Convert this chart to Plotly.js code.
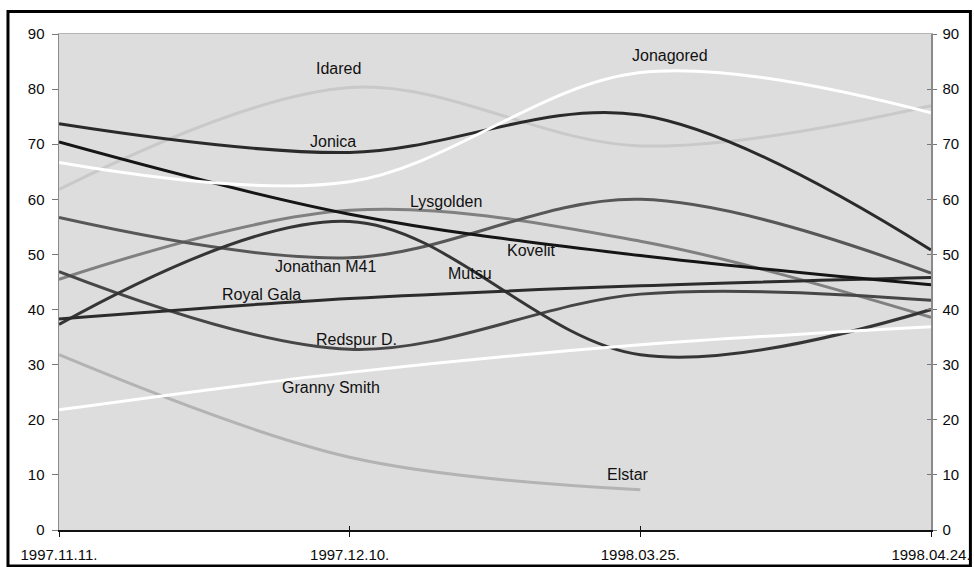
<!DOCTYPE html>
<html>
<head>
<meta charset="utf-8">
<script src="https://cdn.plot.ly/plotly-3.0.1.min.js"></script>
<style>
  html, body { margin: 0; padding: 0; background: #ffffff; }
  #chart { width: 974px; height: 567px; }
</style>
</head>
<body>
<div id="chart"></div>
<script>
// ---- data ----
var dates = ["1997.11.11.", "1997.12.10.", "1998.03.25.", "1998.04.24."];

var idared      = [61.8, 80.3, 69.7, 77.0];
var jonagored   = [66.7, 63.2, 83.0, 75.7];
var jonica      = [73.7, 68.5, 75.3, 50.8];
var kovelit     = [70.4, 57.3, 49.8, 44.5];
var lysgolden   = [45.5, 58.0, 52.4, 38.6];
var jonathanM41 = [56.7, 49.4, 60.0, 46.6];
var mutsu       = [37.3, 56.0, 31.8, 40.0];
var royalGala   = [38.3, 42.0, 44.3, 45.8];
var redspurD    = [46.9, 32.8, 42.8, 41.7];
var grannySmith = [21.8, 28.6, 33.6, 36.9];
var elstar      = [31.8, 13.2, 7.3, null];

var seriesNames = ["Idared", "Jonagored", "Jonica", "Lysgolden", "Kovelit",
                   "Jonathan M41", "Mutsu", "Royal Gala", "Redspur D.",
                   "Granny Smith", "Elstar"];

// ---- styles ----
var seriesList = [
  {name: "Elstar",       y: elstar,      color: "#b3b3b3"},
  {name: "Idared",       y: idared,      color: "#c9c9c9"},
  {name: "Lysgolden",    y: lysgolden,   color: "#808080"},
  {name: "Jonathan M41", y: jonathanM41, color: "#575757"},
  {name: "Redspur D.",   y: redspurD,    color: "#464646"},
  {name: "Mutsu",        y: mutsu,       color: "#353535"},
  {name: "Royal Gala",   y: royalGala,   color: "#2c2c2c"},
  {name: "Kovelit",      y: kovelit,     color: "#151515"},
  {name: "Jonica",       y: jonica,      color: "#2a2a2a"},
  {name: "Granny Smith", y: grannySmith, color: "#ffffff"},
  {name: "Jonagored",    y: jonagored,   color: "#ffffff"}
];

var traces = seriesList.map(function (s) {
  return {
    type: "scatter",
    mode: "lines",
    name: s.name,
    x: dates,
    y: s.y,
    line: {color: s.color, width: 3, shape: "spline", smoothing: 1},
    hoverinfo: "skip",
    connectgaps: false
  };
});

// label placement (category index, value)
var labelPos = {
  "Idared":       [0.963, 83.8],
  "Jonagored":    [2.102, 86.1],
  "Jonica":       [0.941, 70.5],
  "Lysgolden":    [1.331, 59.6],
  "Kovelit":      [1.627, 50.75],
  "Jonathan M41": [0.918, 47.8],
  "Mutsu":        [1.414, 46.5],
  "Royal Gala":   [0.695, 42.7],
  "Redspur D.":   [1.022, 34.65],
  "Granny Smith": [0.936, 25.85],
  "Elstar":       [1.957, 10.0]
};

var annotations = seriesNames.map(function (n) {
  return {
    text: n, x: labelPos[n][0], y: labelPos[n][1],
    xref: "x", yref: "y", showarrow: false,
    xanchor: "center", yanchor: "middle",
    font: {family: "Arial, 'Liberation Sans', sans-serif", size: 16, color: "#111111"}
  };
});

var tickFont = {family: "Arial, 'Liberation Sans', sans-serif", size: 15, color: "#0a0a0a"};

var layout = {
  width: 974, height: 567,
  margin: {l: 59, r: 43, t: 34, b: 37, pad: 0},
  paper_bgcolor: "#ffffff",
  plot_bgcolor: "#dddddd",
  showlegend: false,
  xaxis: {
    type: "category",
    categoryorder: "array", categoryarray: dates,
    range: [0, 3],
    showgrid: false, zeroline: false,
    showline: true, linecolor: "#111111", linewidth: 1.5,
    ticks: "outside", ticklen: 5, tickcolor: "#111111", tickwidth: 1,
    tickfont: tickFont, ticklabelstandoff: 5,
    fixedrange: true
  },
  xaxis2: {
    overlaying: "x", anchor: "y", side: "top",
    range: [0, 3], showgrid: false, zeroline: false,
    showline: true, linecolor: "#b4b4b4", linewidth: 1.5,
    ticks: "", showticklabels: false
  },
  xaxis3: {
    overlaying: "x", anchor: "y", side: "bottom",
    range: [0, 3], tickvals: [0, 1, 2, 3],
    showgrid: false, zeroline: false, showline: false,
    ticks: "inside", ticklen: 4, tickcolor: "#111111", tickwidth: 1,
    showticklabels: false
  },
  yaxis: {
    range: [0, 90], dtick: 10, tick0: 0,
    showgrid: false, zeroline: false,
    showline: true, linecolor: "#8a8a8a", linewidth: 1.5,
    ticks: "outside", ticklen: 6, tickcolor: "#777777", tickwidth: 1,
    tickfont: tickFont, ticklabelstandoff: 4,
    fixedrange: true
  },
  yaxis2: {
    overlaying: "y", side: "right", anchor: "x",
    range: [0, 90], dtick: 10, tick0: 0,
    showgrid: false, zeroline: false,
    showline: true, linecolor: "#8a8a8a", linewidth: 1.5,
    ticks: "outside", ticklen: 4, tickcolor: "#777777", tickwidth: 1,
    tickfont: tickFont, ticklabelstandoff: 3
  },
  yaxis3: {
    overlaying: "y", side: "right", anchor: "x",
    range: [0, 90], dtick: 10, tick0: 0,
    showgrid: false, zeroline: false, showline: false,
    ticks: "inside", ticklen: 4, tickcolor: "#777777", tickwidth: 1,
    showticklabels: false
  },
  annotations: annotations,
  shapes: [{
    type: "rect", xref: "paper", yref: "paper",
    x0: -0.0585, x1: 1.0452, y0: -0.0725, y1: 1.0455,
    line: {color: "#000000", width: 3}, fillcolor: "rgba(0,0,0,0)",
    layer: "below"
  }]
};

// invisible traces so the overlay axes render
traces.push({type: "scatter", mode: "lines", x: [0, 3], y: [0, 0], xaxis: "x2", yaxis: "y2",
             line: {color: "rgba(0,0,0,0)", width: 0}, hoverinfo: "skip"});
traces.push({type: "scatter", mode: "lines", x: [0, 3], y: [0, 0], xaxis: "x3", yaxis: "y3",
             line: {color: "rgba(0,0,0,0)", width: 0}, hoverinfo: "skip"});

Plotly.newPlot("chart", traces, layout, {staticPlot: true, displayModeBar: false});
</script>
</body>
</html>
